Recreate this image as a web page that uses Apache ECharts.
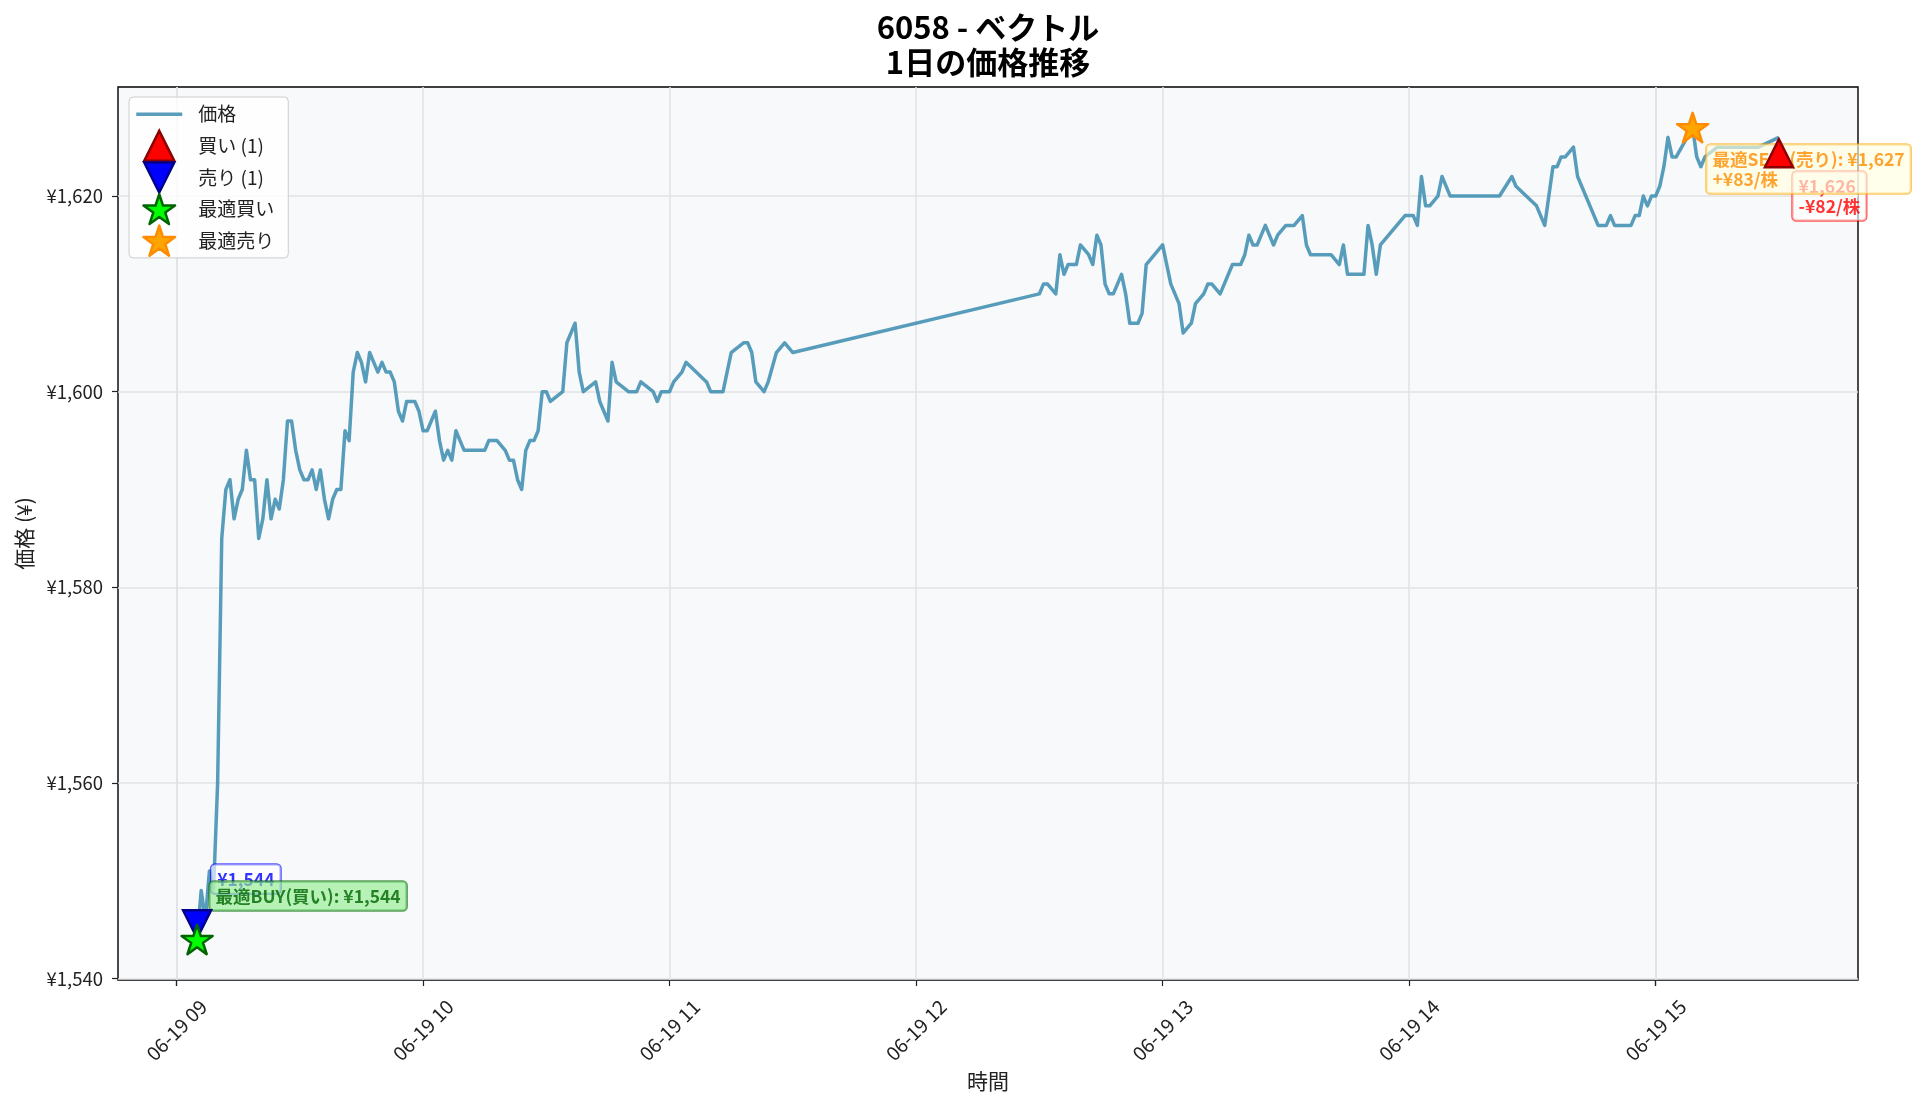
<!DOCTYPE html>
<html>
<head>
<meta charset="utf-8">
<title>6058 - ベクトル 1日の価格推移</title>
<script src="https://cdn.jsdelivr.net/npm/echarts@6/dist/echarts.min.js"></script>
<style>
  html, body { margin: 0; padding: 0; background: #fff; }
  #chart { width: 1920px; height: 1107px; }
</style>
</head>
<body>
<div id="chart"></div>
<script>
// ---- data ----
const priceTimes = [
  '09:05','09:06','09:07','09:08','09:09','09:10','09:11','09:12','09:13','09:14',
  '09:15','09:16','09:17','09:18','09:19','09:20','09:21','09:22','09:23','09:24',
  '09:25','09:26','09:27','09:28','09:29','09:30','09:31','09:32','09:33','09:34',
  '09:35','09:36','09:37','09:38','09:39','09:40','09:41','09:42','09:43','09:44',
  '09:45','09:46','09:47','09:48','09:49','09:50','09:51','09:52','09:53','09:54',
  '09:55','09:56','09:58','09:59','10:00','10:01','10:02','10:03','10:04','10:05',
  '10:06','10:07','10:08','10:09','10:10','10:15','10:16','10:18','10:20','10:21',
  '10:22','10:23','10:24','10:25','10:26','10:27','10:28','10:29','10:30','10:31',
  '10:34','10:35','10:37','10:38','10:39','10:42','10:43','10:45','10:46','10:47',
  '10:50','10:52','10:53','10:56','10:57','10:58','11:00','11:01','11:03','11:04',
  '11:09','11:10','11:13','11:15','11:18','11:19','11:20','11:21','11:23','11:24',
  '11:26','11:28','11:30',
  '12:30','12:31','12:32','12:34','12:35','12:36','12:37','12:39','12:40','12:42',
  '12:43','12:44','12:45','12:46','12:47','12:48','12:49','12:50','12:51','12:52',
  '12:54','12:55','12:56','13:00','13:01','13:02','13:03','13:04','13:05','13:07',
  '13:08','13:10','13:11','13:12','13:14','13:15','13:17','13:19','13:20','13:21',
  '13:22','13:23','13:24','13:25','13:26','13:27','13:28','13:30','13:32','13:34',
  '13:35','13:36','13:41','13:43','13:44','13:45','13:49','13:50','13:51','13:52',
  '13:53','13:59','14:01','14:02','14:03','14:04','14:05','14:07','14:08','14:10',
  '14:22','14:25','14:26','14:31','14:33','14:35','14:36','14:37','14:38','14:40',
  '14:41','14:46','14:48','14:49','14:50','14:54','14:55','14:56','14:57','14:58',
  '14:59','15:00','15:01','15:02','15:03','15:04','15:05','15:09','15:10','15:11',
  '15:12','15:15','15:20','15:25','15:30'
];
const priceValues = [
  1544,1549,1546,1551,1549,1560,1585,1590,1591,1587,
  1589,1590,1594,1591,1591,1585,1587,1591,1587,1589,
  1588,1591,1597,1597,1594,1592,1591,1591,1592,1590,
  1592,1589,1587,1589,1590,1590,1596,1595,1602,1604,
  1603,1601,1604,1603,1602,1603,1602,1602,1601,1598,
  1597,1599,1599,1598,1596,1596,1597,1598,1595,1593,
  1594,1593,1596,1595,1594,1594,1595,1595,1594,1593,
  1593,1591,1590,1594,1595,1595,1596,1600,1600,1599,
  1600,1605,1607,1602,1600,1601,1599,1597,1603,1601,
  1600,1600,1601,1600,1599,1600,1600,1601,1602,1603,
  1601,1600,1600,1604,1605,1605,1604,1601,1600,1601,
  1604,1605,1604,
  1610,1611,1611,1610,1614,1612,1613,1613,1615,1614,
  1613,1616,1615,1611,1610,1610,1611,1612,1610,1607,
  1607,1608,1613,1615,1613,1611,1610,1609,1606,1607,
  1609,1610,1611,1611,1610,1611,1613,1613,1614,1616,
  1615,1615,1616,1617,1616,1615,1616,1617,1617,1618,
  1615,1614,1614,1613,1615,1612,1612,1617,1615,1612,
  1615,1618,1618,1617,1622,1619,1619,1620,1622,1620,
  1620,1622,1621,1619,1617,1623,1623,1624,1624,1625,
  1622,1617,1617,1618,1617,1617,1618,1618,1620,1619,
  1620,1620,1621,1623,1626,1624,1624,1627,1624,1623,
  1624,1625,1625,1625,1626
];

const buyTimes = ['15:30'];
const buyPrices = [1626];
const sellTimes = ['09:05'];
const sellPrices = [1544];
const bestBuy = ['09:05', 1544];
const bestSell = ['15:09', 1627];

const hourTicks = ['09:00','10:00','11:00','12:00','13:00','14:00','15:00'];
const priceTicks = [1540, 1560, 1580, 1600, 1620];
const xRange = ['08:45:45', '15:49:15'];
const yRange = [1539.85, 1631.15];

// trade markers sit slightly off the trade price
const BUY_MARK = 0.999;
const SELL_MARK = 1.001;

// ---- helpers ----
const FONT = '"Noto Sans CJK JP", "Noto Sans", sans-serif';
function ts(s) {
  const p = s.split(':').map(Number);
  return new Date(2025, 5, 19, p[0], p[1], p[2] || 0).getTime();
}
function pad(n) { return (n < 10 ? '0' : '') + n; }
function yen(v) { return '¥' + v.toLocaleString('en-US'); }

const STAR = 'path://M0,-100L22.45,-30.9L95.11,-30.9L36.33,11.8L58.78,80.9L0,38.2L-58.78,80.9L-36.33,11.8L-95.11,-30.9L-22.45,-30.9Z';
const TRI_UP = 'path://M10,0L20,20L0,20Z';
const TRI_DOWN = 'path://M0,0L20,0L10,20Z';
// thin bar, with two empty points so the legend row is as tall as the others
const LINE_ICON = 'path://M0,-13.35L0,-13.35M0,16.65L0,16.65M0,0H46V3.3H0Z';
const LINE_COLOR = 'rgba(46,134,171,0.8)';

function note(t, p, text, pos, st, z) {
  return {
    type: 'scatter',
    z: z,
    symbolSize: 1,
    itemStyle: { color: 'transparent' },
    silent: true,
    data: [[ts(t), p]],
    label: {
      show: true,
      position: pos,
      align: 'left',
      verticalAlign: 'top',
      formatter: text,
      fontFamily: FONT,
      fontSize: 17.5,
      fontWeight: 'bold',
      lineHeight: 20,
      padding: [4.5, 6],
      borderWidth: 1.3,
      borderRadius: 4,
      color: st.color,
      backgroundColor: st.bg,
      borderColor: st.border
    }
  };
}

const chart = echarts.init(document.getElementById('chart'));

const option = {
  animation: false,
  backgroundColor: '#ffffff',
  title: {
    text: '6058 - ベクトル\n1日の価格推移',
    left: 983,
    top: 4,
    textAlign: 'center',
    textStyle: {
      fontFamily: FONT,
      fontSize: 31,
      fontWeight: 'bold',
      lineHeight: 35.5,
      color: '#000'
    }
  },
  legend: {
    orient: 'vertical',
    left: 129,
    top: 97,
    itemWidth: 46,
    itemHeight: 30,
    itemGap: -0.9,
    padding: [1, 14, 1, 6],
    backgroundColor: 'rgba(255,255,255,0.8)',
    borderColor: '#cccccc',
    borderWidth: 1,
    borderRadius: 4,
    selectedMode: false,
    textStyle: { fontFamily: FONT, fontSize: 19, color: '#222', padding: [0, 0, 0, 11] },
    data: [
      { name: '価格', icon: LINE_ICON, itemStyle: { color: LINE_COLOR, borderColor: 'transparent', borderWidth: 2.5 } },
      { name: '買い (1)', icon: TRI_UP, itemStyle: { color: '#ff0000', borderColor: '#8b0000', borderWidth: 2.5, opacity: 1 } },
      { name: '売り (1)', icon: TRI_DOWN, itemStyle: { color: '#0000ff', borderColor: '#00008b', borderWidth: 2.5, opacity: 1 } },
      { name: '最適買い', icon: STAR, itemStyle: { color: '#00ff00', borderColor: '#006400', borderWidth: 2.5, borderJoin: 'round', opacity: 1 } },
      { name: '最適売り', icon: STAR, itemStyle: { color: '#ffa500', borderColor: '#ff8c00', borderWidth: 2.5, borderJoin: 'round', opacity: 1 } }
    ]
  },
  grid: {
    left: 118,
    right: 62,
    top: 87,
    bottom: 127,
    show: true,
    backgroundColor: '#f8f9fa',
    borderColor: '#000',
    borderWidth: 1.4
  },
  xAxis: {
    type: 'time',
    min: ts(xRange[0]),
    max: ts(xRange[1]),
    splitNumber: 7,
    name: '時間',
    nameLocation: 'middle',
    nameGap: 89,
    nameTextStyle: { fontFamily: FONT, fontSize: 21, color: '#222' },
    axisLine: { show: false },
    axisTick: {
      show: true,
      length: 6,
      customValues: hourTicks.map(ts),
      lineStyle: { color: '#222', width: 1.2 }
    },
    axisLabel: {
      rotate: 45,
      align: 'center',
      verticalAlign: 'middle',
      margin: 50,
      fontFamily: FONT,
      fontSize: 19.5,
      color: '#222',
      showMinLabel: true,
      showMaxLabel: true,
      hideOverlap: false,
      formatter: function (v) {
        const d = new Date(v);
        if (d.getMinutes() !== 0 || d.getSeconds() !== 0) return '';
        return pad(d.getMonth() + 1) + '-' + pad(d.getDate()) + ' ' + pad(d.getHours());
      }
    },
    splitLine: { show: true, lineStyle: { color: '#e1e2e4', width: 1.5 } }
  },
  yAxis: {
    type: 'value',
    min: yRange[0],
    max: yRange[1],
    splitNumber: 5,
    name: '価格 (¥)',
    nameLocation: 'middle',
    nameGap: 83,
    nameTextStyle: { fontFamily: FONT, fontSize: 21, color: '#222' },
    axisLine: { show: false },
    axisTick: {
      show: true,
      length: 6,
      customValues: priceTicks,
      lineStyle: { color: '#222', width: 1.2 }
    },
    axisLabel: {
      customValues: priceTicks,
      margin: 15,
      fontFamily: FONT,
      fontSize: 18.5,
      color: '#222',
      formatter: function (v) {
        return v % 20 === 0 ? yen(v) : '';
      }
    },
    splitLine: { show: true, lineStyle: { color: '#e1e2e4', width: 1.5 } }
  },
  series: [
    {
      name: '価格',
      type: 'line',
      z: 2,
      symbol: 'none',
      showSymbol: false,
      lineStyle: { color: LINE_COLOR, width: 3.5, join: 'round' },
      itemStyle: { color: LINE_COLOR },
      data: priceTimes.map((t, i) => [ts(t), priceValues[i]])
    },
    // trade labels (under the best-trade boxes)
    note(sellTimes[0], sellPrices[0], yen(sellPrices[0]), [14.6, -74.4],
      { color: '#0000ff', bg: 'rgba(255,255,255,0.8)', border: 'rgba(0,0,255,0.8)' }, 3),
    note(buyTimes[0], buyPrices[0], yen(buyPrices[0]) + '\n-¥' + (buyPrices[0] - sellPrices[0]) + '/株', [14.1, 34.6],
      { color: '#ff0000', bg: 'rgba(255,255,255,0.8)', border: 'rgba(255,0,0,0.8)' }, 3),
    // best trade labels
    note(bestBuy[0], bestBuy[1], '最適BUY(買い): ' + yen(bestBuy[1]), [13, -57.4],
      { color: '#006400', bg: 'rgba(144,238,144,0.8)', border: 'rgba(0,100,0,0.8)' }, 4),
    note(bestSell[0], bestSell[1], '最適SELL(売り): ' + yen(bestSell[1]) + '\n+¥' + (bestSell[1] - bestBuy[1]) + '/株', [14.4, 17.4],
      { color: '#ff8c00', bg: 'rgba(255,255,224,0.8)', border: 'rgba(255,165,0,0.8)' }, 4),
    {
      name: '買い (1)',
      type: 'scatter',
      z: 5,
      symbol: TRI_UP,
      symbolSize: 28,
      itemStyle: { color: '#ff0000', borderColor: '#8b0000', borderWidth: 2.5, opacity: 1 },
      data: buyTimes.map((t, i) => [ts(t), buyPrices[i] * BUY_MARK])
    },
    {
      name: '売り (1)',
      type: 'scatter',
      z: 5,
      symbol: TRI_DOWN,
      symbolSize: 28,
      itemStyle: { color: '#0000ff', borderColor: '#00008b', borderWidth: 2.5, opacity: 1 },
      data: sellTimes.map((t, i) => [ts(t), sellPrices[i] * SELL_MARK])
    },
    {
      name: '最適買い',
      type: 'scatter',
      z: 6,
      symbol: STAR,
      symbolSize: [31, 29.5],
      itemStyle: { color: '#00ff00', borderColor: '#006400', borderWidth: 2.5, borderJoin: 'round', opacity: 1 },
      data: [[ts(bestBuy[0]), bestBuy[1]]]
    },
    {
      name: '最適売り',
      type: 'scatter',
      z: 6,
      symbol: STAR,
      symbolSize: [31, 29.5],
      itemStyle: { color: '#ffa500', borderColor: '#ff8c00', borderWidth: 2.5, borderJoin: 'round', opacity: 1 },
      data: [[ts(bestSell[0]), bestSell[1]]]
    }
  ]
};

chart.setOption(option);
</script>
</body>
</html>
